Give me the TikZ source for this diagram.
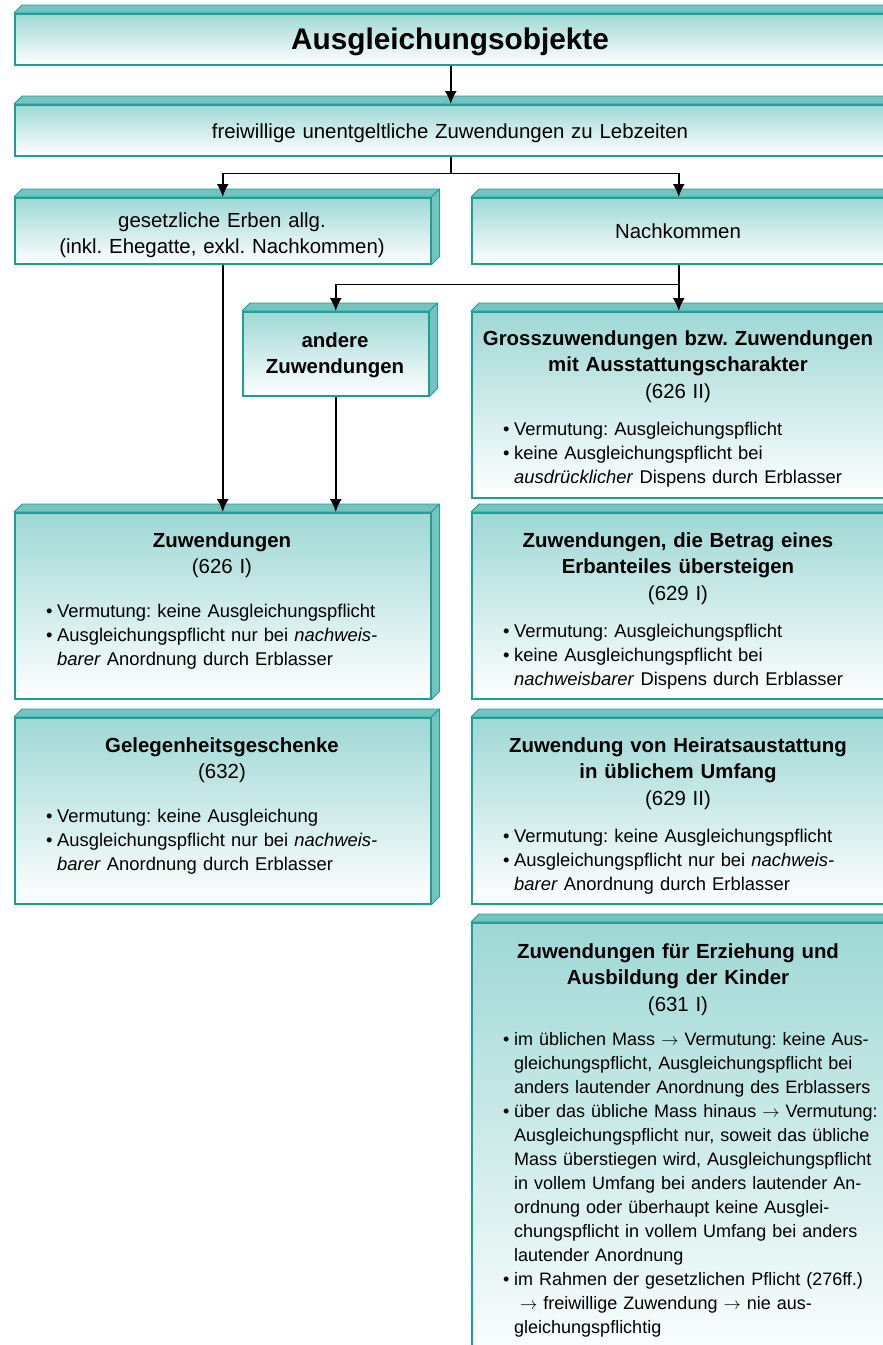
\documentclass[tikz,border=0pt]{standalone}
\usepackage{fontspec}
\setmainfont{Liberation Sans}
\usetikzlibrary{arrows.meta}
\definecolor{boxline}{HTML}{1BA098}
\definecolor{boxtop}{HTML}{9ED8D5}
\definecolor{boxface}{HTML}{74C3BE}
\newcommand{\bulletmark}{\makebox[11pt][l]{\textbullet}}
\newcommand{\hangin}{\hspace*{11pt}}
\frenchspacing
\begin{document}
\begin{tikzpicture}
    [
    x=1pt, y=-1pt,
    block/.style={rectangle,draw=boxline,line width=1.5pt,top color=boxtop,bottom color=white,anchor=north west,inner sep=0pt},
    face/.style={fill=boxface,draw=boxline,line width=0.8pt,line join=round},
    head/.style={font=\fontsize{20.4}{26.5}\selectfont,text width=400pt,align=center,inner sep=0pt,anchor=base},
    list/.style={font=\fontsize{18.4}{24}\selectfont,text width=390pt,align=left,inner sep=0pt,anchor=base west},
    link/.style={line width=1.8pt,-{Latex[length=13pt,width=12pt]}}
    ]
    \clip (0,0) rectangle (883,1345);
    % boxes
    \node (title) at (14,13) [block,minimum width=872pt,minimum height=51pt] {};
    \node (frei) at (14,104) [block,minimum width=872pt,minimum height=51pt] {};
    \node (erben) at (14,197) [block,minimum width=416pt,minimum height=66pt] {};
    \node (nachk) at (471,197) [block,minimum width=414pt,minimum height=66pt] {};
    \node (andere) at (242,311) [block,minimum width=186pt,minimum height=84pt] {};
    \node (gross) at (471,311) [block,minimum width=414pt,minimum height=186pt] {};
    \node (zuw) at (14,512) [block,minimum width=416pt,minimum height=186pt] {};
    \node (betrag) at (471,512) [block,minimum width=414pt,minimum height=186pt] {};
    \node (gelegen) at (14,717) [block,minimum width=416pt,minimum height=186pt] {};
    \node (heirat) at (471,717) [block,minimum width=414pt,minimum height=186pt] {};
    \node (erzieh) at (471,922) [block,minimum width=414pt,minimum height=450pt] {};
    % top and side faces
    \foreach \bx in {title,frei,erben,nachk,andere,gross,zuw,betrag,gelegen,heirat,erzieh} {
      \draw[face] (\bx.north west) -- ++(8,-8) -- ([shift={(8,-8)}]\bx.north east) -- (\bx.north east) -- cycle;
      \draw[face] (\bx.north east) -- ++(8,-8) -- ([shift={(8,-8)}]\bx.south east) -- (\bx.south east) -- cycle;
    }
    % arrows
    \draw [link] (title) to (frei);
    \draw [link] (frei.south) -- ++(0,17) -| (erben.north);
    \draw [link] (frei.south) -- ++(0,17) -| (nachk.north);
    \draw [link] (nachk.south) -- (gross.north);
    \draw [link] (nachk.south) -- ++(0,20) -| (andere.north);
    \draw [link] (erben.south) -- (zuw.north);
    \draw [link] (andere.south) -- (andere.south |- zuw.north);
    % texts
    \node (titleT) at (450,49) [anchor=base,inner sep=0pt,font=\fontsize{29.8}{34}\selectfont\bfseries] {Ausgleichungsobjekte};
    \node (freiT) at (450,138) [head,text width=800pt] {freiwillige unentgeltliche Zuwendungen zu Lebzeiten};
    \node (erbenT) at (222,227) [head] {gesetzliche Erben allg.\\(inkl. Ehegatte, exkl. Nachkommen)};
    \node (nachkT) at (678,238) [head] {Nachkommen};
    \node (andereT) at (335,347) [head,text width=180pt] {\textbf{andere}\\\textbf{Zuwendungen}};
    \node (grossT) at (678,345) [head] {\textbf{Grosszuwendungen bzw. Zuwendungen}\\\textbf{mit Ausstattungscharakter}\\(626 II)};
    \node (grossL) at (503,435) [list] {\bulletmark Vermutung: Ausgleichungspflicht\\
      \bulletmark keine Ausgleichungspflicht bei\\
      \hangin\textit{ausdrücklicher} Dispens durch Erblasser};
    \node (zuwT) at (222,547) [head] {\textbf{Zuwendungen}\\(626 I)};
    \node (zuwL) at (46,617) [list] {\bulletmark Vermutung: keine Ausgleichungspflicht\\
      \bulletmark Ausgleichungspflicht nur bei \textit{nachweis-}\\
      \hangin\textit{barer} Anordnung durch Erblasser};
    \node (betragT) at (678,547) [head] {\textbf{Zuwendungen, die Betrag eines}\\\textbf{Erbanteiles übersteigen}\\(629 I)};
    \node (betragL) at (503,637) [list] {\bulletmark Vermutung: Ausgleichungspflicht\\
      \bulletmark keine Ausgleichungspflicht bei\\
      \hangin\textit{nachweisbarer} Dispens durch Erblasser};
    \node (gelegenT) at (222,752) [head] {\textbf{Gelegenheitsgeschenke}\\(632)};
    \node (gelegenL) at (46,822) [list] {\bulletmark Vermutung: keine Ausgleichung\\
      \bulletmark Ausgleichungspflicht nur bei \textit{nachweis-}\\
      \hangin\textit{barer} Anordnung durch Erblasser};
    \node (heiratT) at (678,752) [head] {\textbf{Zuwendung von Heiratsaustattung}\\\textbf{in üblichem Umfang}\\(629 II)};
    \node (heiratL) at (503,842) [list] {\bulletmark Vermutung: keine Ausgleichungspflicht\\
      \bulletmark Ausgleichungspflicht nur bei \textit{nachweis-}\\
      \hangin\textit{barer} Anordnung durch Erblasser};
    \node (erziehT) at (678,958) [head] {\textbf{Zuwendungen für Erziehung und}\\\textbf{Ausbildung der Kinder}\\(631 I)};
    \node (erziehL) at (503,1045) [list,font=\fontsize{18}{24}\selectfont] {\bulletmark im üblichen Mass $\rightarrow$ Vermutung: keine Aus-\\
      \hangin gleichungspflicht, Ausgleichungspflicht bei\\
      \hangin anders lautender Anordnung des Erblassers\\
      \bulletmark über das übliche Mass hinaus $\rightarrow$ Vermutung:\\
      \hangin Ausgleichungspflicht nur, soweit das übliche\\
      \hangin Mass überstiegen wird, Ausgleichungspflicht\\
      \hangin in vollem Umfang bei anders lautender An-\\
      \hangin ordnung oder überhaupt keine Ausglei-\\
      \hangin chungspflicht in vollem Umfang bei anders\\
      \hangin lautender Anordnung\\
      \bulletmark im Rahmen der gesetzlichen Pflicht (276ff.)\\
      \hangin\ $\rightarrow$ freiwillige Zuwendung $\rightarrow$ nie aus-\\
      \hangin gleichungspflichtig};
\end{tikzpicture}
\end{document}
